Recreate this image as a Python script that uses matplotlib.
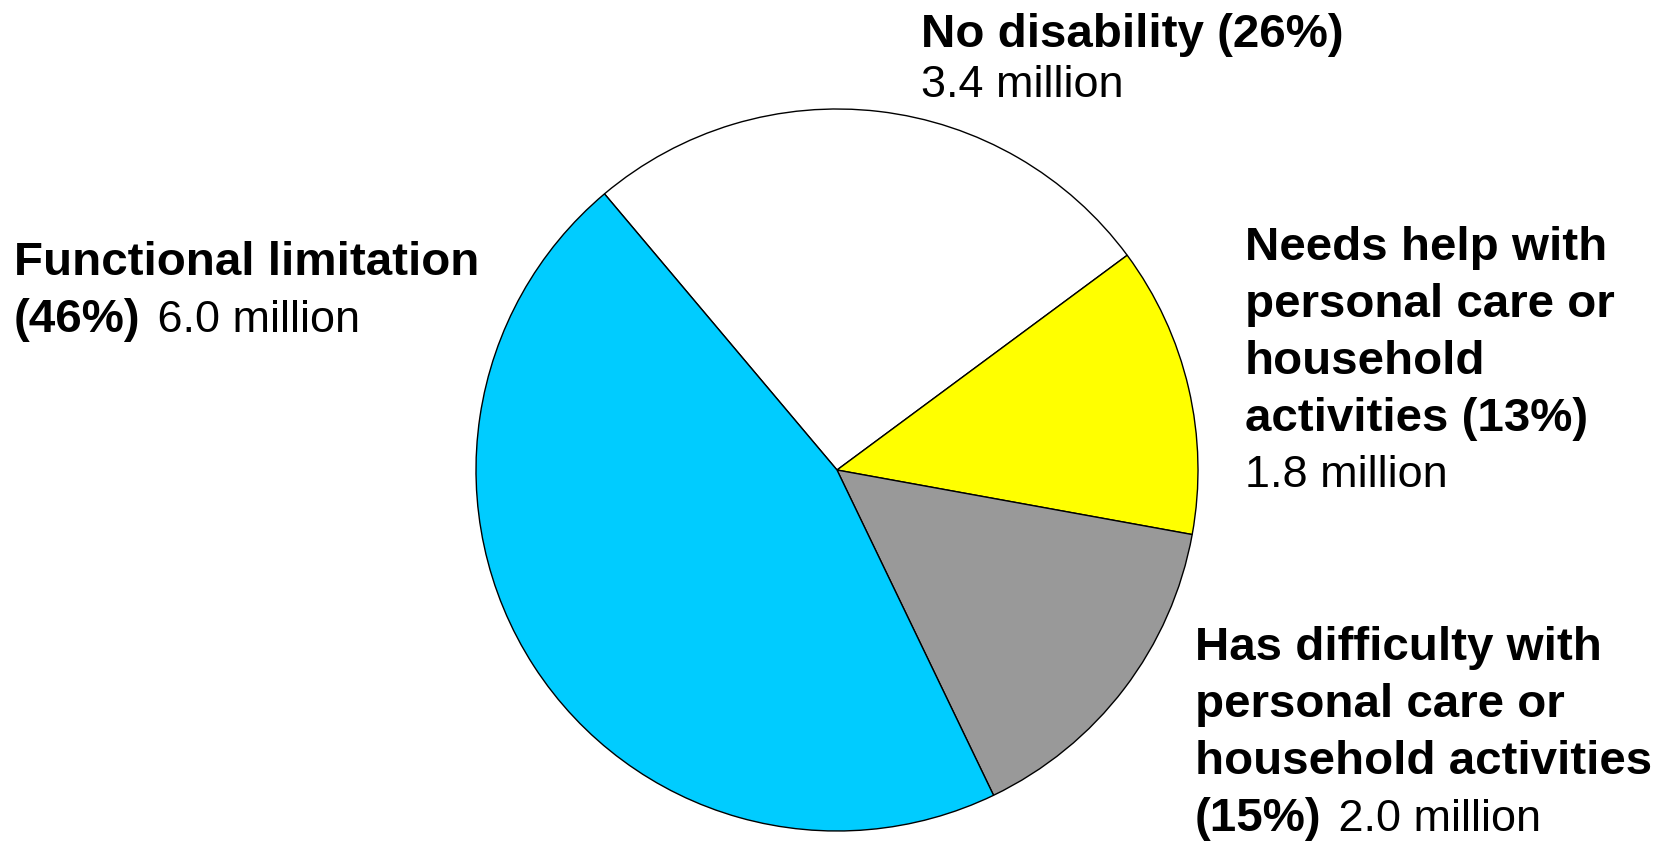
import matplotlib
matplotlib.use("Agg")
import matplotlib.pyplot as plt

# Data
labels = ['No disability', 'Needs help with personal care or household activities',
          'Has difficulty with personal care or household activities', 'Functional limitation']
shares = [26, 13, 15, 46]
millions = [3.4, 1.8, 2.0, 6.0]
colors = ['#FFFFFF', '#FFFF00', '#999999', '#00CCFF']

plt.rcParams['font.family'] = ['Liberation Sans', 'DejaVu Sans']

W, H = 1664, 848
fig = plt.figure(figsize=(W / 100, H / 100), dpi=100)

# Pie axes: center (837, 470) px, radius 361 px
cx, cy, r = 837, 470, 361
ax = fig.add_axes([(cx - r) / W, (H - cy - r) / H, 2 * r / W, 2 * r / H])
ax.pie(shares, colors=colors, startangle=130.1, counterclock=False,
       wedgeprops=dict(edgecolor='black', linewidth=1.0))
ax.set_xlim(-1, 1)
ax.set_ylim(-1, 1)
ax.axis('off')

FS_BOLD = 34.2
FS_REG = 32.4


def px(x, y):
    return x / W, 1 - y / H


def line(x, y, s, bold=True):
    return fig.text(*px(x, y), s, va='baseline', ha='left',
                    fontsize=FS_BOLD if bold else FS_REG,
                    fontweight='bold' if bold else 'normal')


def mixed(x, y, bold_s, reg_s):
    t = line(x, y, bold_s)
    fig.canvas.draw()
    bb = t.get_window_extent()
    line(bb.x1 + 4, y, ' ' + reg_s, bold=False)


step = 57

# No disability
line(921, 47, f'{labels[0]} ({shares[0]}%)')
line(921, 97, f'{millions[0]:.1f} million', bold=False)

# Functional limitation
line(14, 275, 'Functional limitation')
mixed(14, 332, f'({shares[3]}%)', f'{millions[3]:.1f} million')

# Needs help
y0 = 260
for i, s in enumerate(['Needs help with', 'personal care or', 'household',
                       f'activities ({shares[1]}%)']):
    line(1245, y0 + i * step, s)
line(1245, 487, f'{millions[1]:.1f} million', bold=False)

# Has difficulty
y0 = 660
for i, s in enumerate(['Has difficulty with', 'personal care or', 'household activities']):
    line(1195, y0 + i * step, s)
mixed(1195, y0 + 3 * step, f'({shares[2]}%)', f'{millions[2]:.1f} million')

fig.savefig('out.png', dpi=100, facecolor='white')
